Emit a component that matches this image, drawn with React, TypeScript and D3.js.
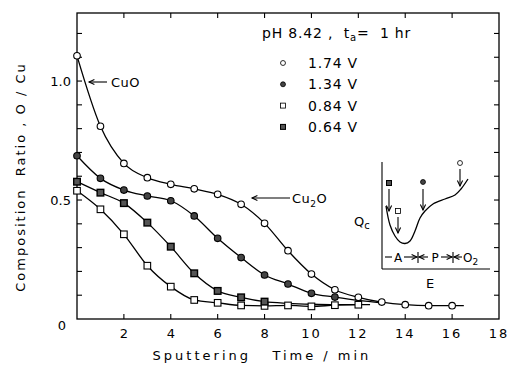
import React from "react";
import * as d3 from "d3";

type Pt = [number, number];

const xTicks = [2, 4, 6, 8, 10, 12, 14, 16];
const xTickLabels = [2, 4, 6, 8, 10, 12, 14, 16, 18];
const yTicks = [0.1, 0.2, 0.3, 0.4, 0.5, 0.6, 0.7, 0.8, 0.9, 1.0, 1.1, 1.2];
const yTickLabels = [
  { v: 0.5, t: "0.5" },
  { v: 1.0, t: "1.0" },
];

const s174: Pt[] = [
  [0, 1.106], [1, 0.81], [2, 0.654], [3, 0.594], [4, 0.566], [5, 0.547],
  [6, 0.524], [7, 0.482], [8, 0.402], [9, 0.287], [10, 0.189], [11, 0.123],
  [12, 0.091], [13, 0.071], [14, 0.06], [15, 0.056], [16, 0.056],
];
const s174Tail: Pt[] = [[16.5, 0.056]];

const s134: Pt[] = [
  [0, 0.686], [1, 0.591], [2, 0.542], [3, 0.517], [4, 0.497], [5, 0.433],
  [6, 0.339], [7, 0.258], [8, 0.185], [9, 0.147], [10, 0.108], [11, 0.092],
];
const s134Tail: Pt[] = [[12, 0.078], [13, 0.068]];

const s084: Pt[] = [
  [0, 0.539], [1, 0.461], [2, 0.356], [3, 0.224], [4, 0.136], [5, 0.08],
  [6, 0.068], [7, 0.057], [8, 0.055], [9, 0.057], [10, 0.053], [11, 0.058],
  [12, 0.06],
];
const s084Tail: Pt[] = [[12.5, 0.06]];

const s064: Pt[] = [
  [0, 0.577], [1, 0.531], [2, 0.487], [3, 0.405], [4, 0.304], [5, 0.192],
  [6, 0.118], [7, 0.091], [8, 0.073],
];
const s064Tail: Pt[] = [[9, 0.066], [10, 0.062], [11, 0.06], [12, 0.06]];

const legendLabels = ["1.74 V", "1.34 V", "0.84 V", "0.64 V"];

// inset curve (in inset's own pixel space, E horizontal, Qc vertical)
const insetCurve: Pt[] = [
  [386, 206], [390, 225], [395, 236], [400, 242], [405, 243.5], [410, 241],
  [415, 231], [420, 218], [425, 211], [433, 204], [445, 199], [455, 195],
  [461, 189], [468, 179],
];

const FONT = "'DejaVu Sans', sans-serif";

const x = d3.scaleLinear().domain([0, 18]).range([77, 499]);
const y = d3.scaleLinear().domain([0, 1.286]).range([319, 13]);

const line = d3
  .line<Pt>()
  .x((d) => x(d[0]))
  .y((d) => y(d[1]))
  .curve(d3.curveMonotoneX);

const insetLine = d3
  .line<Pt>()
  .x((d) => d[0])
  .y((d) => d[1])
  .curve(d3.curveCatmullRom);

function Marker({ kind, cx, cy }: { kind: number; cx: number; cy: number }) {
  if (kind === 0)
    return <circle cx={cx} cy={cy} r={3.3} fill="#fff" stroke="#000" strokeWidth={1.1} />;
  if (kind === 1)
    return <circle cx={cx} cy={cy} r={3.3} fill="#444" stroke="#000" strokeWidth={1.1} />;
  if (kind === 2)
    return <rect x={cx - 3.3} y={cy - 3.3} width={6.6} height={6.6} fill="#fff" stroke="#000" strokeWidth={1.1} />;
  return <rect x={cx - 3.3} y={cy - 3.3} width={6.6} height={6.6} fill="#555" stroke="#000" strokeWidth={1.4} />;
}

function Arrow({ x1, y1, x2, y2 }: { x1: number; y1: number; x2: number; y2: number }) {
  const ang = Math.atan2(y2 - y1, x2 - x1);
  const L = 6;
  const w = 0.45;
  const p1: Pt = [x2 - L * Math.cos(ang - w), y2 - L * Math.sin(ang - w)];
  const p2: Pt = [x2 - L * Math.cos(ang + w), y2 - L * Math.sin(ang + w)];
  return (
    <g stroke="#000" strokeWidth={1.1} fill="none">
      <line x1={x1} y1={y1} x2={x2} y2={y2} />
      <path d={`M${p1[0]},${p1[1]} L${x2},${y2} L${p2[0]},${p2[1]}`} />
    </g>
  );
}

export default function App() {
  const series = [
    { pts: s174, tail: s174Tail, kind: 0 },
    { pts: s134, tail: s134Tail, kind: 1 },
    { pts: s084, tail: s084Tail, kind: 2 },
    { pts: s064, tail: s064Tail, kind: 3 },
  ];
  return (
    <svg
      width={511}
      height={365}
      style={{ position: "absolute", left: 0, top: 0, background: "#fff" }}
      fontFamily={FONT}
    >
      <rect width={511} height={365} fill="#fff" />
      {/* frame */}
      <rect x={x(0)} y={y(1.286)} width={x(18) - x(0)} height={y(0) - y(1.286)} fill="none" stroke="#000" strokeWidth={1.3} />
      {/* ticks */}
      {xTicks.map((t) => (
        <g key={"xt" + t} stroke="#000" strokeWidth={1.1}>
          <line x1={x(t)} x2={x(t)} y1={y(0)} y2={y(0) - 5} />
          <line x1={x(t)} x2={x(t)} y1={y(1.286)} y2={y(1.286) + 5} />
        </g>
      ))}
      {yTicks.map((t) => (
        <g key={"yt" + t} stroke="#000" strokeWidth={1.1}>
          <line x1={x(0)} x2={x(0) + 5} y1={y(t)} y2={y(t)} />
          <line x1={x(18)} x2={x(18) - 5} y1={y(t)} y2={y(t)} />
        </g>
      ))}
      {/* tick labels */}
      {xTickLabels.map((t) => (
        <text key={"xl" + t} x={x(t)} y={y(0) + 19} fontSize={13} textAnchor="middle" letterSpacing={t >= 10 ? 2 : 0}>
          {t}
        </text>
      ))}
      <text x={62} y={330} fontSize={13} textAnchor="middle">0</text>
      {yTickLabels.map((d) => (
        <text key={"yl" + d.v} x={71} y={y(d.v) + 5} fontSize={13} textAnchor="end">
          {d.t}
        </text>
      ))}
      {/* axis titles */}
      <text x={262} y={360} fontSize={13} textAnchor="middle" letterSpacing={3} xmlSpace="preserve">
        Sputtering   Time / min
      </text>
      <text transform="translate(25,177) rotate(-90)" fontSize={13} textAnchor="middle" letterSpacing={2} xmlSpace="preserve">
        Composition  Ratio , O / Cu
      </text>
      {/* curves */}
      {series.map((s, i) => (
        <path key={"l" + i} d={line([...s.pts, ...s.tail]) || ""} fill="none" stroke="#000" strokeWidth={1.3} />
      ))}
      {series.map((s, i) =>
        s.pts.map((p, j) => <Marker key={`m${i}-${j}`} kind={s.kind} cx={x(p[0])} cy={y(p[1])} />)
      )}
      {/* annotations */}
      <Arrow x1={107} y1={82} x2={89} y2={82} />
      <text x={111} y={87} fontSize={13} letterSpacing={0.5}>CuO</text>
      <Arrow x1={290} y1={198} x2={252} y2={198} />
      <text x={292} y={203} fontSize={13} letterSpacing={0.5}>
        Cu<tspan fontSize={9} dy={4}>2</tspan><tspan dy={-4}>O</tspan>
      </text>
      {/* legend */}
      <text x={262} y={38} fontSize={14} letterSpacing={0.8} xmlSpace="preserve">
        pH 8.42 ,  t<tspan fontSize={10} dy={3}>a</tspan><tspan dy={-3}>=  1 hr</tspan>
      </text>
      {legendLabels.map((l, i) => {
        const cy = 63 + i * 21.3;
        return (
          <g key={"lg" + i}>
            <g transform={`translate(${283},${cy}) scale(0.75) translate(${-283},${-cy})`}>
              <Marker kind={i} cx={283} cy={cy} />
            </g>
            <text x={308} y={cy + 5} fontSize={14} letterSpacing={0.8}>{l}</text>
          </g>
        );
      })}
      {/* inset */}
      <g>
        <line x1={382} y1={162} x2={382} y2={269} stroke="#000" strokeWidth={1.1} />
        <line x1={382} y1={269} x2={490} y2={269} stroke="#000" strokeWidth={1.1} />
        <path d={insetLine(insetCurve) || ""} fill="none" stroke="#000" strokeWidth={1.3} />
        <g transform="translate(389,183) scale(0.75) translate(-389,-183)"><Marker kind={3} cx={389} cy={183} /></g>
        <Arrow x1={389} y1={189} x2={389} y2={211} />
        <g transform="translate(398,211) scale(0.75) translate(-398,-211)"><Marker kind={2} cx={398} cy={211} /></g>
        <Arrow x1={398} y1={217} x2={398} y2={233} />
        <g transform="translate(423,182) scale(0.75) translate(-423,-182)"><Marker kind={1} cx={423} cy={182} /></g>
        <Arrow x1={423} y1={189} x2={423} y2={210} />
        <g transform="translate(460,163) scale(0.75) translate(-460,-163)"><Marker kind={0} cx={460} cy={163} /></g>
        <Arrow x1={460} y1={169} x2={460} y2={186} />
        <text x={354} y={226} fontSize={13}>
          Q<tspan fontSize={10} dy={3}>c</tspan>
        </text>
        <text x={430} y={288} fontSize={13} textAnchor="middle">E</text>
        {/* region annotation */}
        <line x1={385} y1={257} x2={392} y2={257} stroke="#000" strokeWidth={1.1} />
        <text x={398} y={261.5} fontSize={12} textAnchor="middle">A</text>
        <Arrow x1={404} y1={257} x2={417} y2={257} />
        <line x1={418} y1={252} x2={418} y2={263} stroke="#000" strokeWidth={1.1} />
        <Arrow x1={428} y1={257} x2={419} y2={257} />
        <text x={435} y={261.5} fontSize={12} textAnchor="middle">P</text>
        <Arrow x1={441} y1={257} x2={452} y2={257} />
        <line x1={453} y1={252} x2={453} y2={263} stroke="#000" strokeWidth={1.1} />
        <Arrow x1={462} y1={257} x2={454} y2={257} />
        <text x={463} y={261.5} fontSize={12}>
          O<tspan fontSize={9} dy={3}>2</tspan>
        </text>
      </g>
    </svg>
  );
}
